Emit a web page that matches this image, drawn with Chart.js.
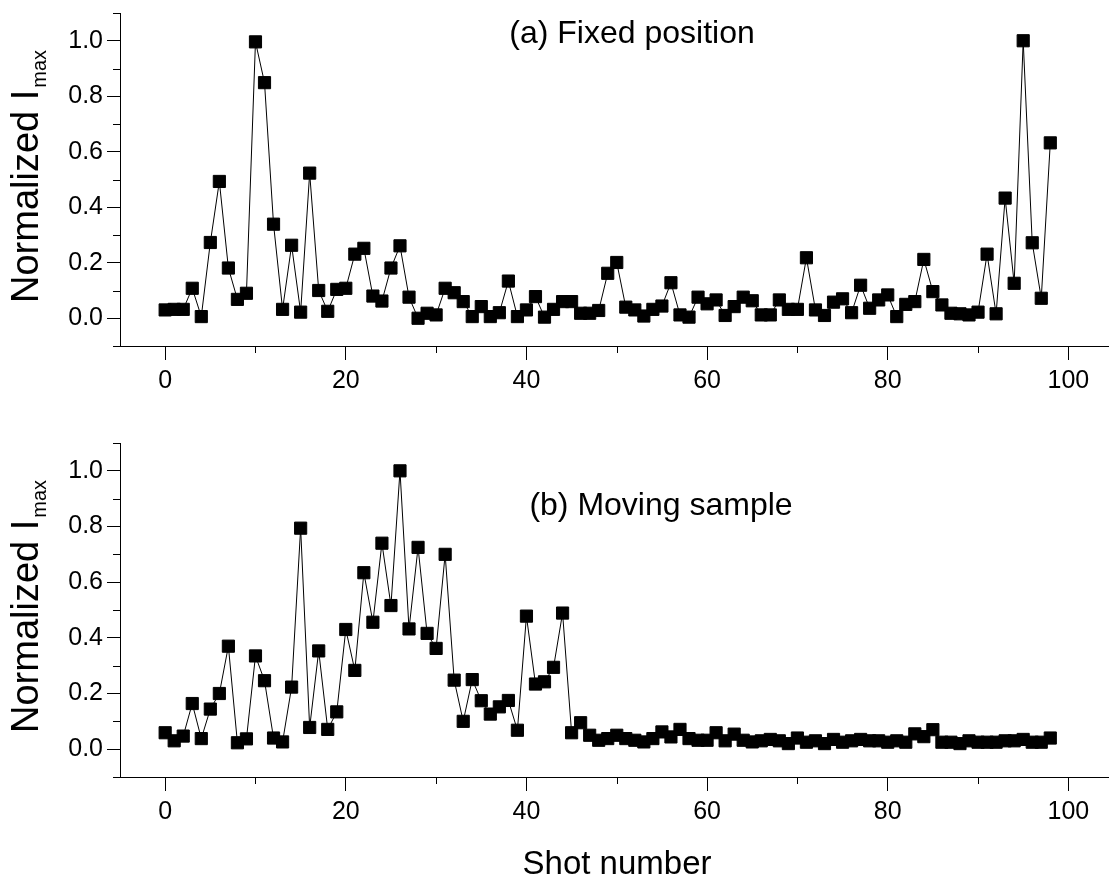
<!DOCTYPE html>
<html>
<head>
<meta charset="utf-8">
<script src="https://cdn.jsdelivr.net/npm/chart.js@4.4.0/dist/chart.umd.min.js"></script>
<style>
    html, body { margin: 0; padding: 0; background: #fff; overflow: hidden; }
    #wrap { position: relative; width: 1109px; height: 878px; }
    #chartA { position: absolute; left: 0; top: 0; }
    #chartB { position: absolute; left: 0; top: 420px; }
</style>
</head>
<body>
<div id="wrap">
    <canvas id="chartA" width="1109" height="420"></canvas>
    <canvas id="chartB" width="1109" height="458"></canvas>
</div>
<script>
// ===== Data =====
const shots = [
    0, 1, 2, 3, 4, 5, 6, 7, 8, 9, 10, 11, 12, 13, 14, 15, 16, 17, 18, 19,
    20, 21, 22, 23, 24, 25, 26, 27, 28, 29, 30, 31, 32, 33, 34, 35, 36, 37, 38, 39,
    40, 41, 42, 43, 44, 45, 46, 47, 48, 49, 50, 51, 52, 53, 54, 55, 56, 57, 58, 59,
    60, 61, 62, 63, 64, 65, 66, 67, 68, 69, 70, 71, 72, 73, 74, 75, 76, 77, 78, 79,
    80, 81, 82, 83, 84, 85, 86, 87, 88, 89, 90, 91, 92, 93, 94, 95, 96, 97, 98
];

const fixedPosition = [
    0.030, 0.032, 0.032, 0.108, 0.006, 0.273, 0.493, 0.181, 0.068, 0.090,
    0.996, 0.849, 0.339, 0.032, 0.263, 0.022, 0.523, 0.100, 0.025, 0.104,
    0.108, 0.231, 0.252, 0.080, 0.062, 0.181, 0.261, 0.076, 0.000, 0.018,
    0.012, 0.108, 0.092, 0.060, 0.006, 0.042, 0.006, 0.020, 0.134, 0.006,
    0.030, 0.078, 0.004, 0.032, 0.060, 0.060, 0.018, 0.018, 0.028, 0.162,
    0.201, 0.040, 0.030, 0.008, 0.032, 0.044, 0.128, 0.012, 0.004, 0.076,
    0.052, 0.066, 0.010, 0.042, 0.076, 0.063, 0.012, 0.012, 0.066, 0.032,
    0.032, 0.218, 0.030, 0.010, 0.058, 0.070, 0.020, 0.119, 0.036, 0.066,
    0.084, 0.006, 0.050, 0.060, 0.212, 0.096, 0.048, 0.018, 0.016, 0.012,
    0.022, 0.231, 0.016, 0.433, 0.126, 1.000, 0.272, 0.072, 0.632
];

const movingSample = [
    0.059, 0.030, 0.047, 0.164, 0.038, 0.144, 0.200, 0.370, 0.023, 0.037,
    0.335, 0.246, 0.040, 0.026, 0.223, 0.794, 0.078, 0.353, 0.071, 0.134,
    0.430, 0.283, 0.634, 0.456, 0.740, 0.516, 1.000, 0.432, 0.725, 0.416,
    0.362, 0.700, 0.248, 0.100, 0.250, 0.174, 0.126, 0.152, 0.175, 0.068,
    0.478, 0.234, 0.242, 0.294, 0.489, 0.059, 0.095, 0.050, 0.032, 0.038,
    0.050, 0.038, 0.032, 0.026, 0.038, 0.062, 0.044, 0.071, 0.038, 0.032,
    0.032, 0.059, 0.030, 0.054, 0.032, 0.026, 0.030, 0.035, 0.030, 0.020,
    0.040, 0.025, 0.030, 0.020, 0.035, 0.025, 0.030, 0.035, 0.030, 0.030,
    0.025, 0.030, 0.025, 0.055, 0.045, 0.070, 0.025, 0.025, 0.020, 0.030,
    0.025, 0.025, 0.025, 0.030, 0.030, 0.035, 0.025, 0.025, 0.040
];

const xMajorTicks = [0, 20, 40, 60, 80, 100];
const xMinorTicks = [10, 30, 50, 70, 90];
const yMajorTicks = [0, 0.2, 0.4, 0.6, 0.8, 1.0];
const yMinorTicks = [-0.1, 0.1, 0.3, 0.5, 0.7, 0.9, 1.1];

const FONT = "'Liberation Sans', Arial, sans-serif";

// minor ticks + text inside / around the plot
const decorPlugin = {
    id: 'decor',
    afterDraw(chart, args, opts) {
        const ctx = chart.ctx;
        const area = chart.chartArea;
        const xs = chart.scales.x;
        const ys = chart.scales.y;
        ctx.save();
        ctx.strokeStyle = '#000';
        ctx.lineWidth = 1;
        ctx.beginPath();
        xMinorTicks.forEach(v => {
            const px = Math.round(xs.getPixelForValue(v)) + 0.5;
            ctx.moveTo(px, area.bottom);
            ctx.lineTo(px, area.bottom + 7);
        });
        yMinorTicks.forEach(v => {
            const py = Math.round(ys.getPixelForValue(v)) + 0.5;
            ctx.moveTo(area.left - 7, py);
            ctx.lineTo(area.left, py);
        });
        ctx.stroke();

        ctx.fillStyle = '#000';
        // panel title
        ctx.font = '32px ' + FONT;
        ctx.textAlign = 'center';
        ctx.textBaseline = 'alphabetic';
        ctx.fillText(opts.title, opts.titleX, opts.titleY);

        // y axis title with subscript
        ctx.translate(opts.ylabX, opts.ylabY);
        ctx.rotate(-Math.PI / 2);
        ctx.textAlign = 'left';
        ctx.font = '38px ' + FONT;
        ctx.fillText('Normalized I', 0, 0);
        const w = ctx.measureText('Normalized I').width;
        ctx.font = '20px ' + FONT;
        ctx.fillText('max', w + 2, 8);
        ctx.setTransform(1, 0, 0, 1, 0, 0);

        if (opts.xlabel) {
            ctx.font = '33px ' + FONT;
            ctx.textAlign = 'center';
            ctx.fillText(opts.xlabel, opts.xlabX, opts.xlabY);
        }
        ctx.restore();
    }
};

function makeChart(id, values, axisHeight, topPad, decor) {
    return new Chart(document.getElementById(id), {
        type: 'line',
        data: {
            datasets: [{
                data: shots.map((s, i) => ({ x: s, y: values[i] })),
                borderColor: '#000',
                borderWidth: 1,
                tension: 0,
                pointStyle: 'rect',
                pointRadius: 8.6,
                pointBackgroundColor: '#000',
                pointBorderColor: '#000',
                pointBorderWidth: 1
            }]
        },
        options: {
            responsive: false,
            animation: false,
            events: [],
            layout: { autoPadding: false, padding: { top: topPad, left: 0, right: 0, bottom: 0 } },
            plugins: {
                legend: { display: false },
                tooltip: { enabled: false },
                decor: decor
            },
            scales: {
                x: {
                    type: 'linear',
                    min: -5,
                    max: 104.5,
                    afterBuildTicks: (s) => { s.ticks = xMajorTicks.map(v => ({ value: v })); },
                    afterFit: (s) => { s.height = axisHeight; s.paddingLeft = 0; s.paddingRight = 0; },
                    border: { display: true, color: '#000', width: 1 },
                    grid: { drawOnChartArea: false, drawTicks: true, tickLength: 14, tickColor: '#000' },
                    ticks: {
                        autoSkip: false,
                        maxRotation: 0,
                        padding: 6,
                        color: '#000',
                        font: { family: FONT, size: 25 },
                        callback: (v) => String(v)
                    }
                },
                y: {
                    min: -0.1,
                    max: 1.1,
                    afterBuildTicks: (s) => { s.ticks = yMajorTicks.map(v => ({ value: v })); },
                    afterFit: (s) => { s.width = 120; s.paddingTop = 0; s.paddingBottom = 0; },
                    border: { display: true, color: '#000', width: 1 },
                    grid: { drawOnChartArea: false, drawTicks: true, tickLength: 13, tickColor: '#000' },
                    ticks: {
                        autoSkip: false,
                        padding: 4,
                        color: '#000',
                        font: { family: FONT, size: 25 },
                        callback: (v) => Number(v).toFixed(1)
                    }
                }
            }
        },
        plugins: [decorPlugin]
    });
}

makeChart('chartA', fixedPosition, 74, 13, {
    title: '(a) Fixed position', titleX: 632, titleY: 43,
    ylabX: 38, ylabY: 303
});

makeChart('chartB', movingSample, 101, 23, {
    title: '(b) Moving sample', titleX: 661, titleY: 95,
    ylabX: 38, ylabY: 313,
    xlabel: 'Shot number', xlabX: 617, xlabY: 454
});
</script>
</body>
</html>
